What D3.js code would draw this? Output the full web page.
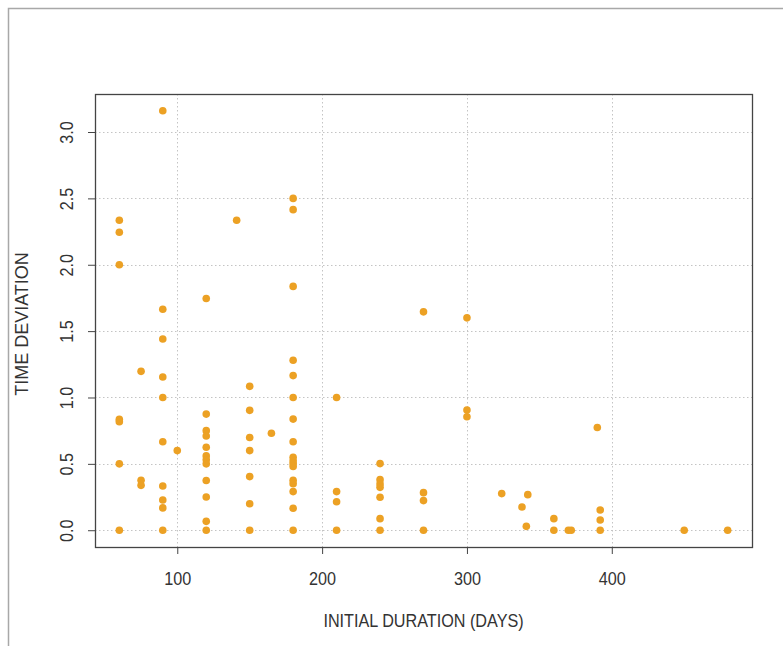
<!DOCTYPE html>
<html>
<head>
  <title>time deviation vs initial duration</title>
  <meta charset="utf-8">
  <style type="text/css">
    body {
      margin: 0;
      background: white;
    }
    svg text {
      font-family: "Liberation Sans", Arial, sans-serif;
      fill: #333;
    }
  </style>
  <script src="https://d3js.org/d3.v7.min.js"></script>
</head>
<body>
  <div id="output"></div>
  <script>
    // one entry per project: initial duration (days) and time deviation
    var duration = [
      60, 60, 60, 60, 60, 60, 60,
      75, 75, 75,
      90, 90, 90, 90, 90, 90, 90, 90, 90, 90,
      100,
      120, 120, 120, 120, 120, 120, 120, 120, 120, 120, 120, 120,
      141,
      150, 150, 150, 150, 150, 150, 150,
      165,
      180, 180, 180, 180, 180, 180, 180, 180, 180, 180, 180, 180, 180, 180, 180, 180, 180,
      210, 210, 210, 210,
      240, 240, 240, 240, 240, 240, 240,
      270, 270, 270, 270,
      300, 300, 300,
      324, 338, 342, 341,
      360, 360, 370, 372,
      390, 392, 392, 392,
      450, 480
    ];
    var deviation = [
      2.335, 2.245, 2.0, 0.835, 0.818, 0.5, 0,
      1.197, 0.376, 0.338,
      3.16, 1.665, 1.441, 1.154, 1.0, 0.666, 0.333, 0.228, 0.168, 0,
      0.6,
      1.746, 0.875, 0.75, 0.71, 0.625, 0.56, 0.53, 0.5, 0.375, 0.25, 0.067, 0,
      2.335,
      1.084, 0.903, 0.699, 0.6, 0.404, 0.2, 0,
      0.731,
      2.5, 2.415, 1.837, 1.28, 1.165, 1.0, 0.837, 0.666, 0.55, 0.523, 0.502, 0.48, 0.376, 0.351, 0.291, 0.165, 0,
      1.0, 0.291, 0.215, 0,
      0.502, 0.381, 0.349, 0.323, 0.248, 0.087, 0,
      1.645, 0.283, 0.223, 0,
      1.6, 0.905, 0.855,
      0.276, 0.175, 0.268, 0.029,
      0.087, 0, 0, 0,
      0.774, 0.152, 0.077, 0,
      0, 0
    ];
    var xTicks = [100, 200, 300, 400];
    var yTicks = [0, 0.5, 1, 1.5, 2, 2.5, 3];

    var width = 783, height = 646;
    // plot region (window.top is taken, so prefix these)
    var plotLeft = 95, plotRight = 752, plotTop = 94, plotBottom = 547;

    var points = duration.map(function (d, i) { return {x: d, y: deviation[i]}; });

    var svg = d3.select('#output').append('svg')
      .attr('width', width)
      .attr('height', height);

    // outer frame of the picture (only top and left edges show)
    svg.append('path')
      .attr('d', 'M8.5,' + height + 'V8.5H' + width)
      .attr('fill', 'none')
      .attr('stroke', '#a8a8a8')
      .attr('stroke-width', 1.5);

    // R style: pad the data range by 4% on each side
    var xExt = d3.extent(duration), yExt = d3.extent(deviation);
    var xPad = (xExt[1] - xExt[0]) * 0.04, yPad = (yExt[1] - yExt[0]) * 0.04;
    var x = d3.scaleLinear().domain([xExt[0] - xPad, xExt[1] + xPad]).range([plotLeft, plotRight]);
    var y = d3.scaleLinear().domain([yExt[0] - yPad, yExt[1] + yPad]).range([plotBottom, plotTop]);

    // dotted grid
    var grid = svg.append('g')
      .attr('stroke', '#c4c4c4')
      .attr('stroke-width', 1)
      .attr('stroke-dasharray', '1.5,2.5');
    grid.selectAll('line.v').data(xTicks).enter().append('line')
      .attr('x1', function (d) { return Math.round(x(d)) + 0.5; })
      .attr('x2', function (d) { return Math.round(x(d)) + 0.5; })
      .attr('y1', plotTop).attr('y2', plotBottom);
    grid.selectAll('line.h').data(yTicks).enter().append('line')
      .attr('y1', function (d) { return Math.round(y(d)) + 0.5; })
      .attr('y2', function (d) { return Math.round(y(d)) + 0.5; })
      .attr('x1', plotLeft).attr('x2', plotRight);

    // axes
    var xAxis = d3.axisBottom(x).tickValues(xTicks).tickSize(7)
      .tickFormat(d3.format('d'));
    var yAxis = d3.axisLeft(y).tickValues(yTicks).tickSize(7)
      .tickFormat(d3.format('.1f'));

    var gx = svg.append('g').attr('transform', 'translate(0,' + plotBottom + ')').call(xAxis);
    var gy = svg.append('g').attr('transform', 'translate(' + plotLeft + ',0)').call(yAxis);
    [gx, gy].forEach(function (g) {
      g.select('.domain').remove();
      g.selectAll('line').attr('stroke', '#444');
      g.selectAll('text')
        .attr('fill', '#333')
        .style('font-size', '18px');
    });
    gx.selectAll('.tick text')
      .attr('y', null).attr('dy', null)
      .attr('transform', 'translate(0,38) scale(0.9,1)');
    gy.selectAll('.tick text')
      .attr('x', null).attr('dy', null)
      .attr('text-anchor', 'middle')
      .attr('transform', 'translate(-27,0) rotate(-90) scale(0.9,1)')
      .attr('dominant-baseline', 'middle');

    // plot box
    svg.append('rect')
      .attr('x', plotLeft + 0.5).attr('y', plotTop + 0.5)
      .attr('width', plotRight - plotLeft).attr('height', plotBottom - plotTop)
      .attr('fill', 'none')
      .attr('stroke', '#444')
      .attr('stroke-width', 1.3);

    svg.append('g').selectAll('circle')
      .data(points)
      .enter()
      .append('circle')
      .attr('cx', function (d) { return x(d.x); })
      .attr('cy', function (d) { return y(d.y); })
      .attr('r', 3.8)
      .attr('fill', '#eca124');

    // axis titles
    svg.append('text')
      .attr('transform', 'translate(' + ((plotLeft + plotRight) / 2) + ',627) scale(0.9,1)')
      .attr('text-anchor', 'middle')
      .style('font-size', '18px')
      .text('INITIAL DURATION (DAYS)');
    svg.append('text')
      .attr('transform', 'translate(28,324) rotate(-90)')
      .attr('text-anchor', 'middle')
      .style('font-size', '18px')
      .text('TIME DEVIATION');
  </script>
</body>
</html>
